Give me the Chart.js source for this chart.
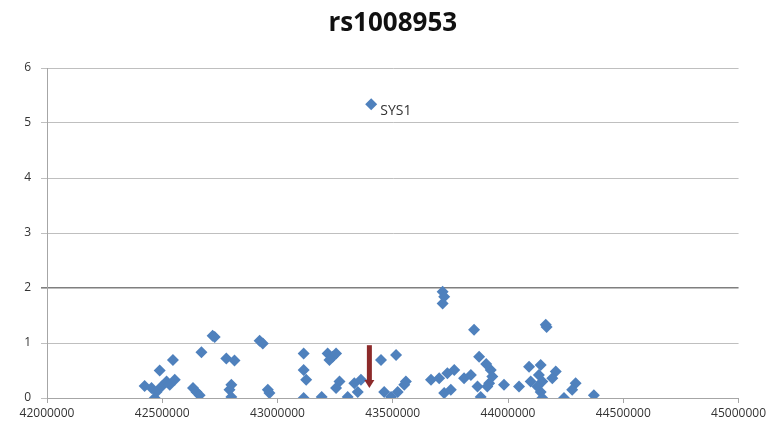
<!DOCTYPE html>
<html>
<head>
<meta charset="utf-8">
<script src="https://cdn.jsdelivr.net/npm/chart.js@4.4.1/dist/chart.umd.min.js"></script>
<style>
  html, body { margin: 0; padding: 0; background: #fff; }
  #wrap { width: 769px; height: 434px; }
</style>
</head>
<body>
<div id="wrap"><canvas id="chart" width="769" height="434"></canvas></div>
<script>
// SNP positions (bp) and -log10(p) values
const positions = [
  42423600, 42453300, 42467100, 42475100, 42496800, 42518600, 42532500, 42554200, 42546300, 42488900,
  42633400, 42648300, 42662100, 42670000, 42727400, 42718500, 42777900, 42813500, 42791800, 42799700, 42799700,
  42922400, 42936300, 42958000, 42965000, 43113400, 43113400, 43124300, 43113400, 43191600, 43217300,
  43239100, 43225300, 43254000, 43268800, 43254000, 43304400, 43348000, 43333100, 43361800,
  43406400,
  43448900, 43514300, 43462800, 43492500, 43521200, 43549900, 43556800, 43665700, 43701300, 43736900,
  43766600, 43723100, 43751800, 43716200, 43723100, 43716200, 43809200, 43838900, 43852700, 43874500,
  43867600, 43881400, 43925000, 43918100,
  43905200, 43931900, 43910100, 43982400, 44047700, 44091300, 44098200, 44141700, 44133800, 44148700,
  44141700, 44148700, 44126900, 44163500, 44167500, 44207100, 44192200, 44293200, 44278300, 44242700,
  44372300
];
const scores = [
  0.22, 0.18, 0.00, 0.11, 0.21, 0.30, 0.24, 0.33, 0.69, 0.50,
  0.18, 0.11, 0.05, 0.83, 1.11, 1.13, 0.72, 0.68, 0.15, 0.24, 0.02,
  1.04, 0.99, 0.15, 0.09, 0.81, 0.51, 0.33, 0.00, 0.02, 0.81,
  0.75, 0.69, 0.81, 0.30, 0.18, 0.02, 0.11, 0.27, 0.33,
  5.34,
  0.69, 0.78, 0.11, 0.02, 0.11, 0.24, 0.30, 0.33, 0.36, 0.45,
  0.51, 0.09, 0.15, 1.93, 1.84, 1.72, 0.36, 0.42, 1.24, 0.75,
  0.21, 0.02, 0.51, 0.27,
  0.62, 0.39, 0.21, 0.24, 0.21, 0.57, 0.30, 0.60, 0.42, 0.30,
  0.11, 0.00, 0.21, 1.33, 1.29, 0.48, 0.36, 0.27, 0.15, 0.00,
  0.05
];

// labelled gene and the marker arrow for the query SNP
const geneName = 'SYS1';
const geneIndex = 40;
const arrowPos = 43398500;
const arrowFrom = 0.96;
const arrowTo = 0.18;

const xMin = 42000000, xMax = 45000000, xStep = 500000;
const yMin = 0, yMax = 6, yStep = 1;
const threshold = 2;

const points = positions.map((p, i) => ({ x: p, y: scores[i] }));

// draws the gene label and the red arrow
const extras = {
  id: 'extras',
  afterDatasetsDraw(chart) {
    const ctx = chart.ctx;
    const xs = chart.scales.x, ys = chart.scales.y;

    const gx = xs.getPixelForValue(positions[geneIndex]);
    const gy = ys.getPixelForValue(scores[geneIndex]);
    ctx.save();
    ctx.fillStyle = '#333';
    ctx.font = '14px "Open Sans"';
    ctx.textBaseline = 'middle';
    ctx.fillText(geneName, gx + 9, gy + 7);

    const ax = xs.getPixelForValue(arrowPos);
    const top = ys.getPixelForValue(arrowFrom);
    const tip = ys.getPixelForValue(arrowTo);
    ctx.fillStyle = '#8c2a2a';
    ctx.fillRect(ax - 2.5, top, 5, tip - top - 7);
    ctx.beginPath();
    ctx.moveTo(ax - 5, tip - 8);
    ctx.lineTo(ax + 5, tip - 8);
    ctx.lineTo(ax, tip);
    ctx.closePath();
    ctx.fill();
    ctx.restore();
  }
};

new Chart(document.getElementById('chart'), {
  type: 'scatter',
  data: {
    datasets: [{
      data: points,
      pointStyle: 'rectRot',
      pointRadius: 6,
      pointHoverRadius: 6,
      backgroundColor: '#4f81bd',
      borderColor: '#4f81bd',
      borderWidth: 0
    }]
  },
  options: {
    responsive: false,
    animation: false,
    layout: { padding: { left: 0, right: 29, top: 0, bottom: 0 } },
    plugins: {
      legend: { display: false },
      tooltip: { enabled: false },
      title: {
        display: true,
        fullSize: false,
        text: 'rs1008953',
        color: '#111',
        font: { family: 'Open Sans', size: 26, weight: 'bold' },
        padding: { top: 8, bottom: 28.8 }
      }
    },
    scales: {
      x: {
        type: 'linear',
        min: xMin,
        max: xMax,
        afterFit(s) { s.height = 36; },
        ticks: {
          stepSize: xStep,
          color: '#333',
          font: { family: 'Open Sans', size: 12 },
          padding: 3,
          maxRotation: 0,
          callback: v => String(v)
        },
        grid: {
          drawOnChartArea: false,
          drawTicks: true,
          tickLength: 5,
          color: '#a6a6a6'
        },
        border: { color: '#a6a6a6' }
      },
      y: {
        min: yMin,
        max: yMax,
        afterFit(s) { s.width = 47; },
        ticks: {
          stepSize: yStep,
          color: '#333',
          font: { family: 'Open Sans', size: 12 },
          padding: 10
        },
        grid: {
          tickLength: 6,
          color: c => c.tick && c.tick.value === threshold ? '#7f7f7f' : '#bfbfbf',
          lineWidth: c => c.tick && c.tick.value === threshold ? 1.6 : 1
        },
        border: { color: '#a6a6a6' }
      }
    }
  },
  plugins: [extras]
});
</script>
</body>
</html>
